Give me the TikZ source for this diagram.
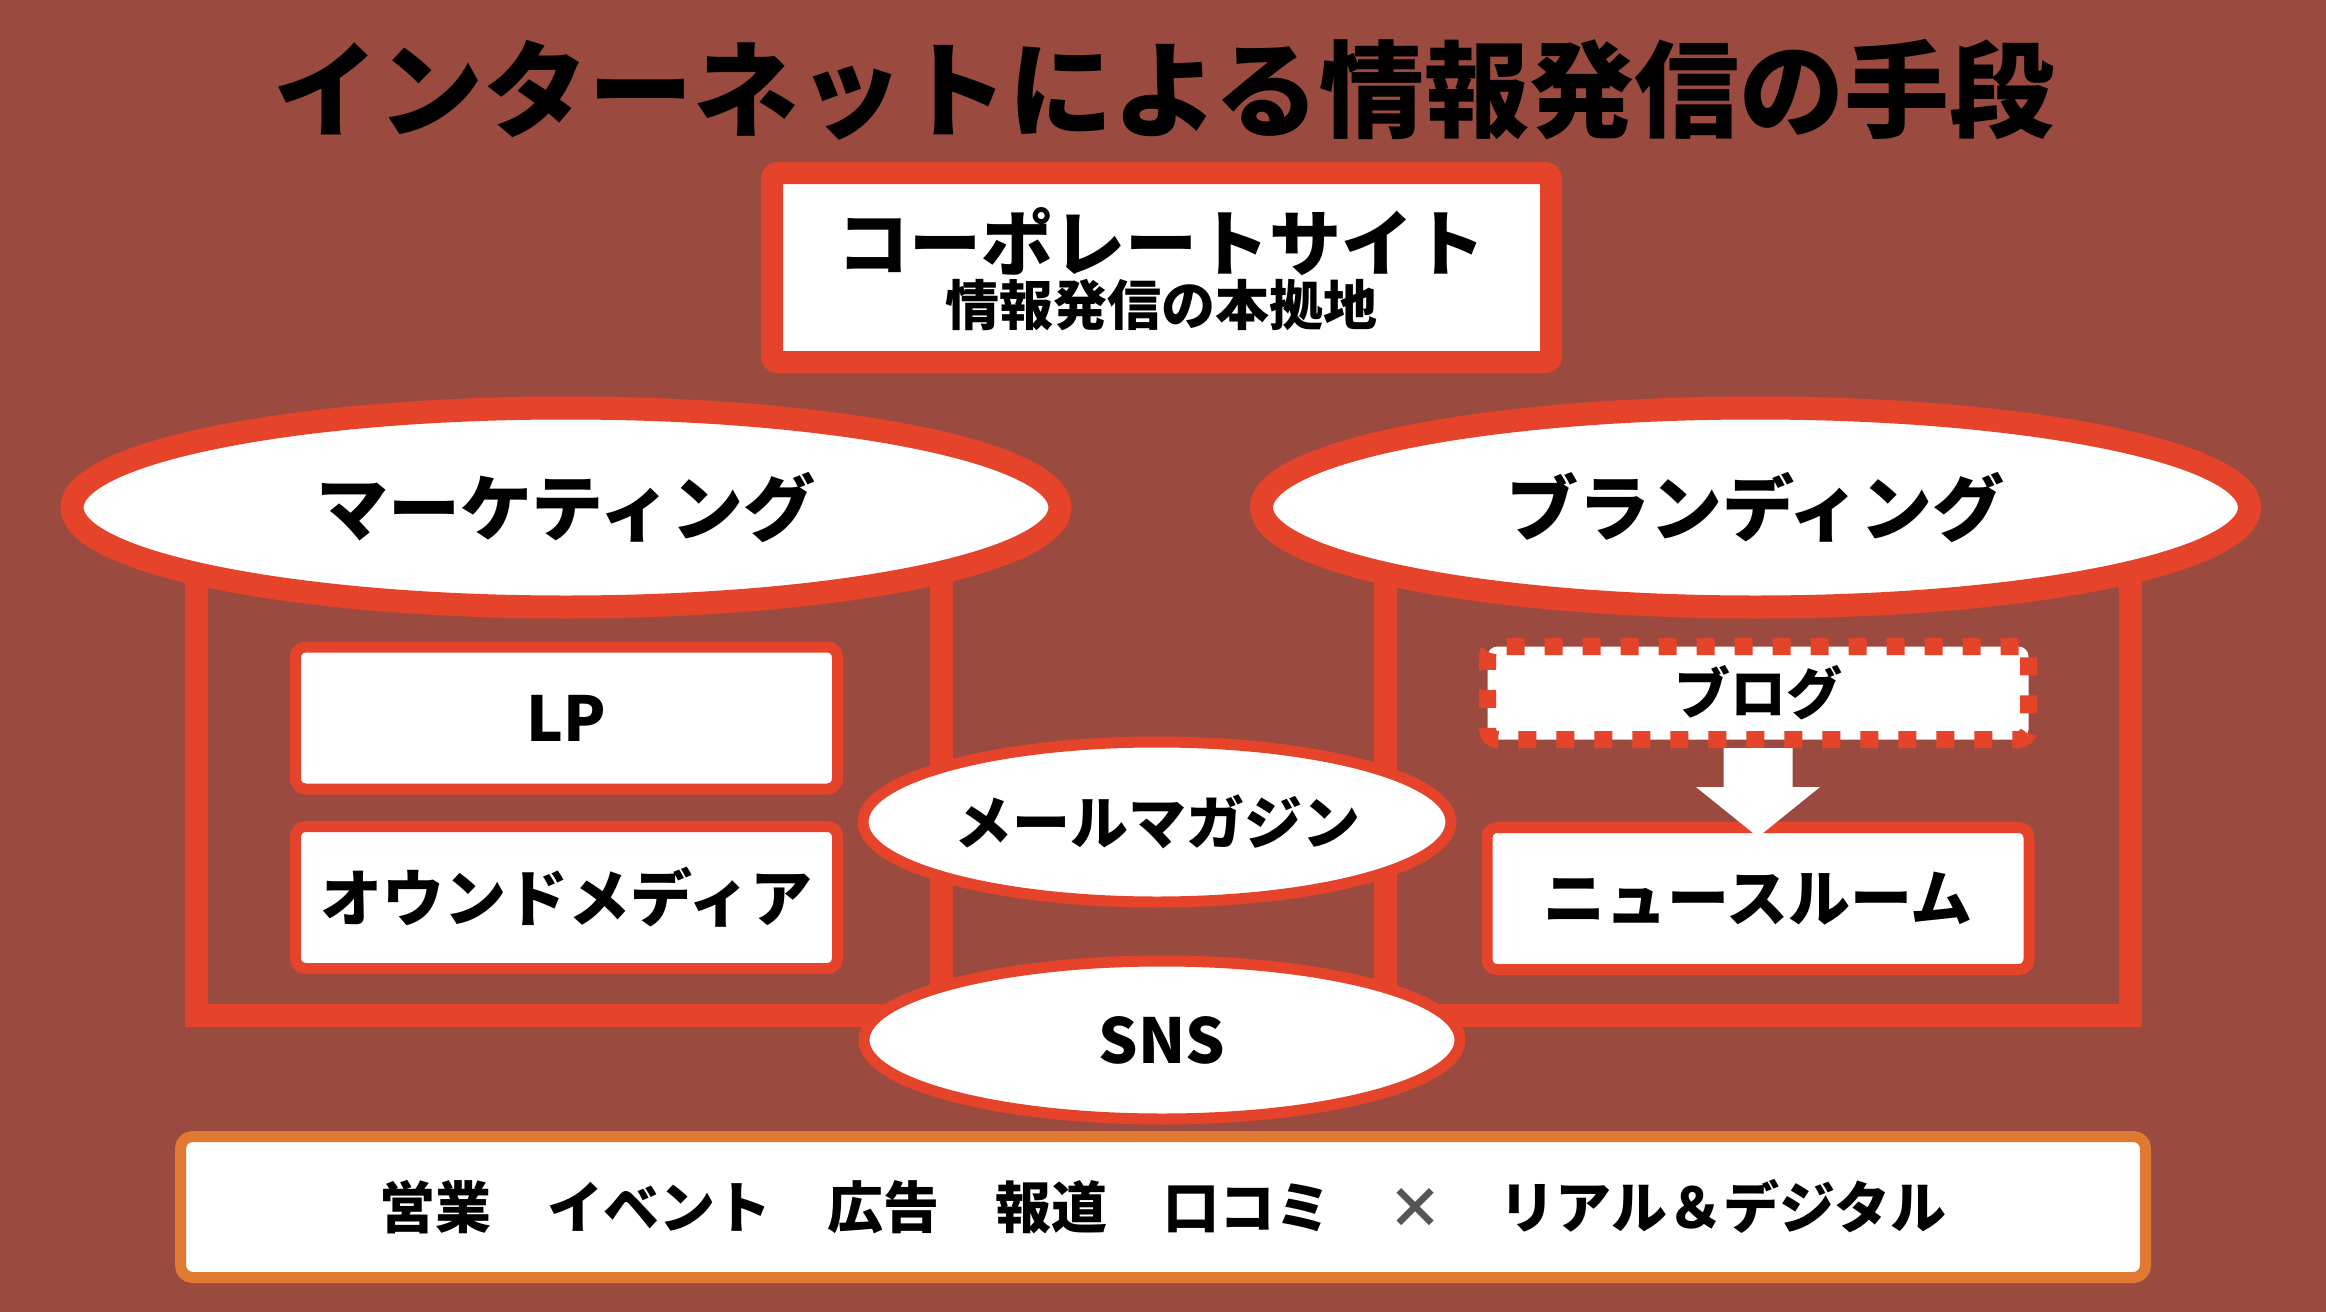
\documentclass[tikz,border=0pt]{standalone}
\usepackage{fontspec}
\setmainfont{Noto Sans CJK JP}
\usetikzlibrary{shapes.geometric,calc}
\definecolor{bg}{HTML}{9B4A3F}
\definecolor{rd}{HTML}{E5432A}
\definecolor{og}{HTML}{E07A32}
\definecolor{gr}{HTML}{555555}
\newcommand\myfs[1]{\bfseries\fontsize{#1}{#1}\selectfont}
\tikzset{
  txt/.style={inner sep=0pt, text=black},
  bigell/.style={ellipse, draw=rd, fill=white, line width=11.5pt, inner sep=0pt,
    minimum width=494pt, minimum height=99.5pt, font=\myfs{36pt}},
  smallell/.style={ellipse, draw=rd, fill=white, line width=5.5pt, inner sep=0pt,
    font=\myfs{30pt}},
  itembox/.style={rectangle, draw=rd, fill=white, line width=5.5pt, rounded corners=5pt,
    minimum width=271pt, minimum height=71pt, inner sep=0pt, font=\myfs{31pt}},
  cupbox/.style={rectangle, draw=rd, line width=11.5pt, minimum width=372.75pt,
    minimum height=237.5pt, inner sep=0pt},
}
\begin{document}
\begin{tikzpicture}[x=0.5pt,y=-0.5pt]
\useasboundingbox (0,0) rectangle (2326,1312);
\fill[bg] (0,0) rectangle (2326,1312);

% title
\node[txt, font=\myfs{52.5pt}] (title) at (1164,90) {インターネットによる情報発信の手段};

% corporate site
\node[rectangle, draw=rd, fill=white, line width=11pt, rounded corners=3pt,
  minimum width=389.5pt, minimum height=94.5pt] (corp) at (1161.5,267.5) {};
\node[txt, font=\myfs{36pt}] (corpt) at (1161,242) {コーポレートサイト};
\node[txt, font=\myfs{27pt}] (corps) at (1161,305) {情報発信の本拠地};

% containers
\node[cupbox] (mkcup) at (568.75,777.5) {};
\node[cupbox] (brcup) at (1757.75,777.5) {};

% headers
\node[bigell] (mk) at (566,507.5) {マーケティング};
\node[bigell] (br) at (1755.5,507.5) {ブランディング};

% marketing items
\node[itembox] (lp) at (566.5,718) {LP};
\node[itembox] (om) at (566.5,897.5) {オウンドメディア};

% branding items
\node[itembox] (news) at (1758,898.5) {ニュースルーム};
\node[rectangle, draw=rd, fill=white, line width=8.5pt, dash pattern=on 9pt off 10pt,
  rounded corners=5pt, minimum width=270.5pt, minimum height=46.5pt, inner sep=0pt,
  font=\myfs{28pt}] (blog) at (1758,693) {ブログ};
\fill[white] ($(blog.south)+(-34.5,0)$) -- ($(news.north)+(-34.5,-35)$)
  -- ($(news.north)+(-62,-35)$) -- ($(news.north)+(0,15)$)
  -- ($(news.north)+(62,-35)$) -- ($(news.north)+(34.5,-35)$)
  -- ($(blog.south)+(34.5,0)$) -- cycle;

% shared channels
\node[smallell, minimum width=294pt, minimum height=80pt, font=\myfs{29pt}] (mail) at (1157,822) {メールマガジン};
\node[smallell, minimum width=298pt, minimum height=79pt, font=\myfs{31pt}] (sns) at (1162,1040) {SNS};

% bottom bar
\node[rectangle, draw=og, fill=white, line width=5.5pt, rounded corners=6pt,
  minimum width=982.5pt, minimum height=70.5pt, inner sep=0pt, font=\myfs{28pt}]
  (bottom) at (1163,1207) {営業　イベント　広告　報道　口コミ　{\color{gr}×}　リアル＆デジタル};
\end{tikzpicture}
\end{document}
